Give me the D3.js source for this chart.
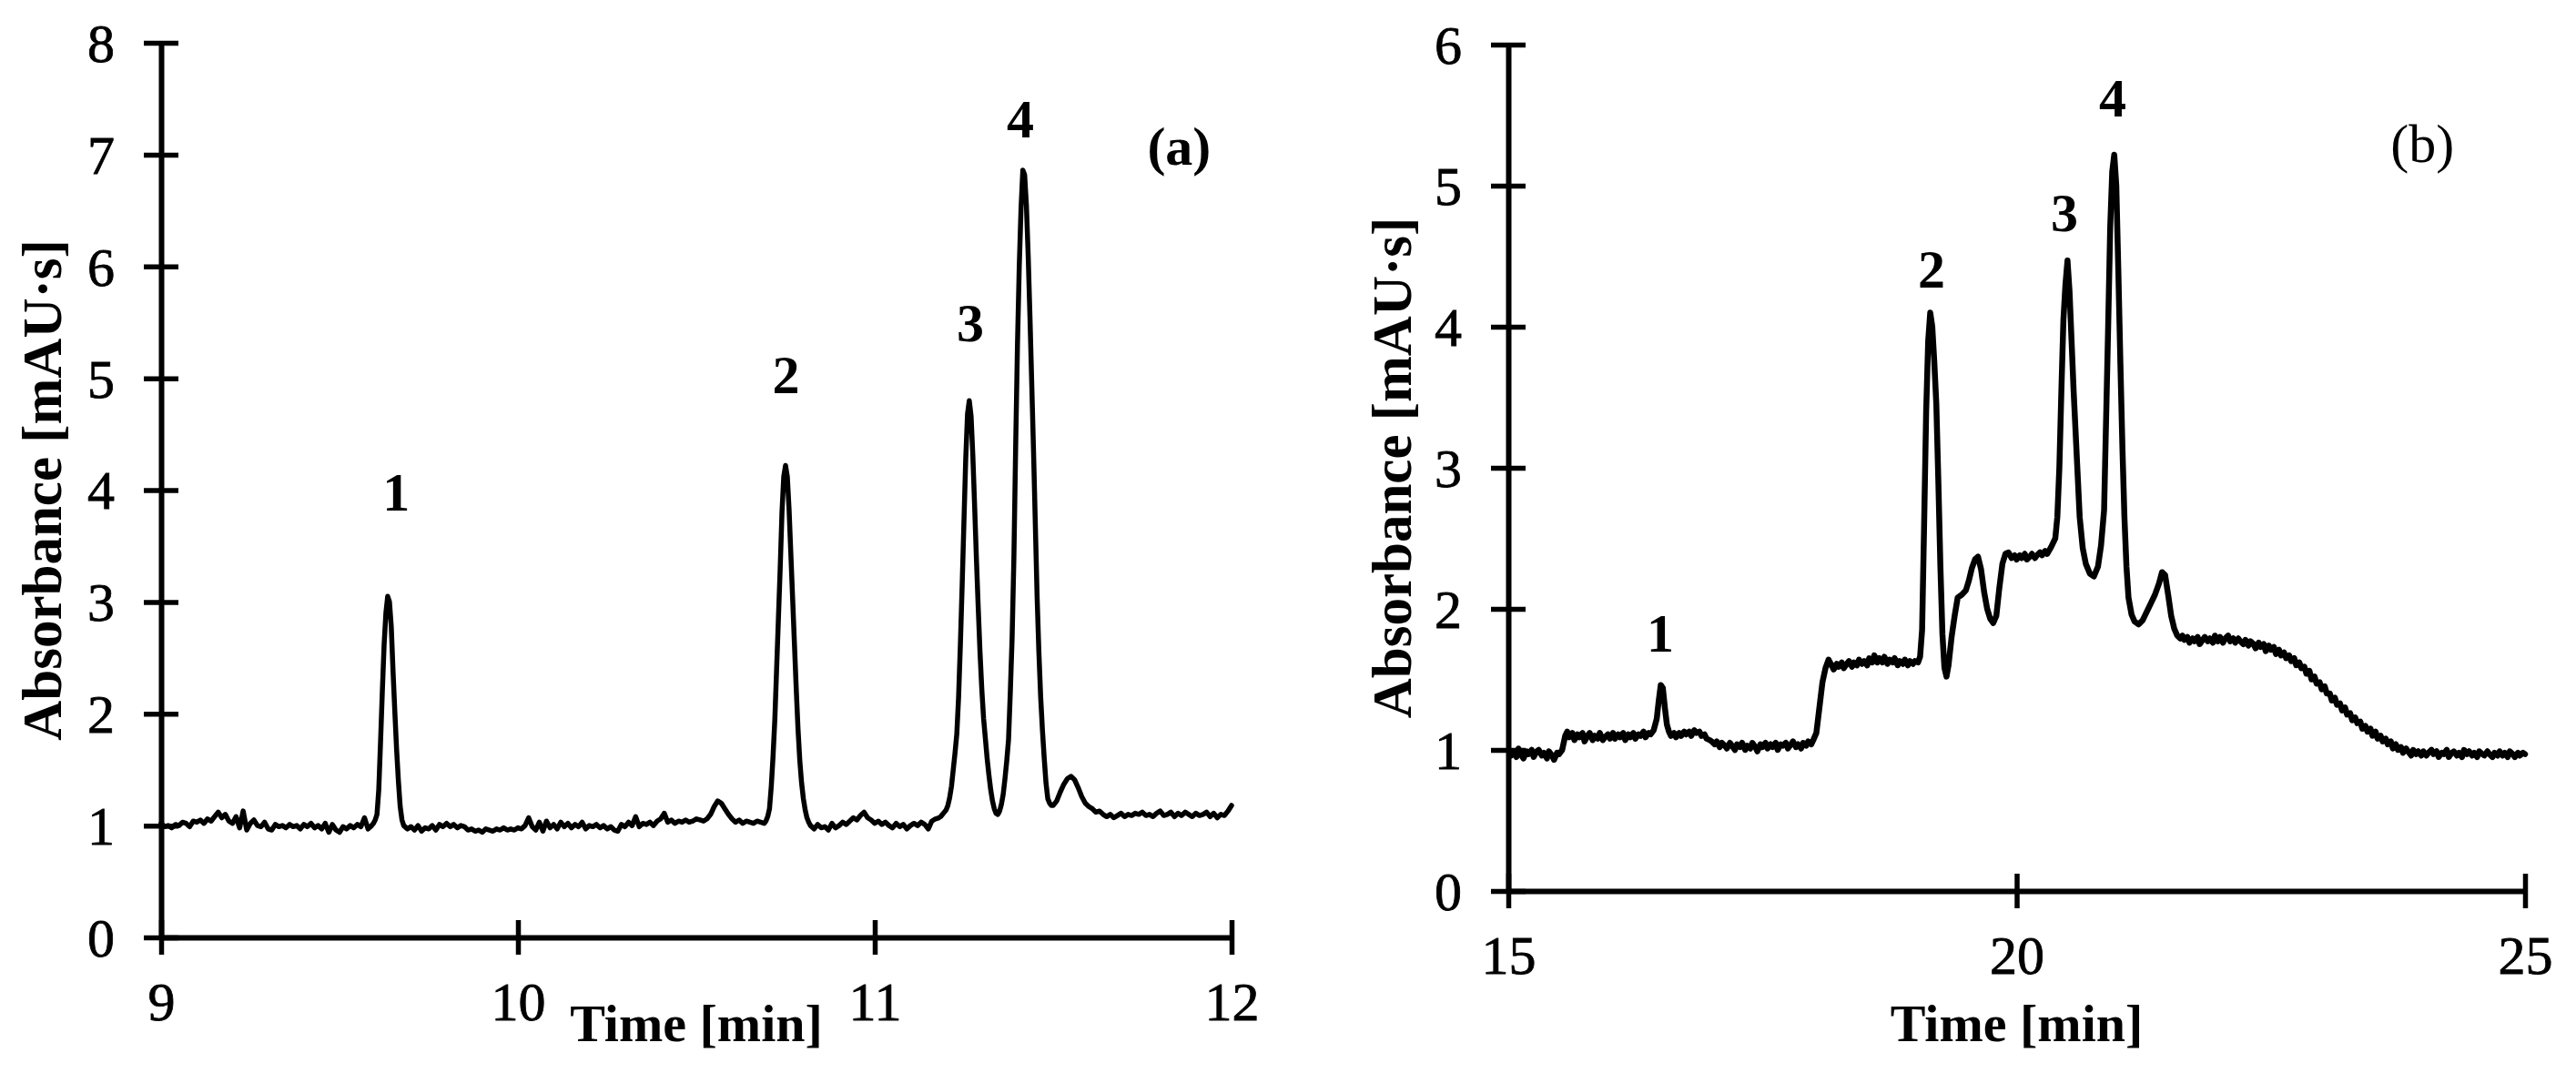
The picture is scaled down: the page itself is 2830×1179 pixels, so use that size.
<!DOCTYPE html>
<html><head><meta charset="utf-8">
<script src="https://cdn.jsdelivr.net/npm/d3@7"></script>
<style>body{margin:0;background:#fff}svg{display:block}</style>
</head><body>
<svg id="chart" width="2830" height="1179"></svg>
<script>
// ---------- DATA ----------
const traceA = [
[9.00,1.02],[9.01,0.99],[9.02,1.00],[9.03,0.98],[9.04,1.01],[9.05,1.00],[9.06,1.03],[9.07,1.02],[9.08,0.99],[9.09,1.04],
[9.10,1.03],[9.11,1.05],[9.12,1.02],[9.13,1.06],[9.14,1.04],[9.15,1.08],[9.16,1.12],[9.17,1.07],[9.18,1.10],[9.19,1.04],
[9.20,1.02],[9.21,1.08],[9.22,0.98],[9.23,1.13],[9.24,0.96],[9.25,1.02],[9.26,1.05],[9.27,1.00],[9.28,0.99],[9.29,1.03],
[9.30,0.97],[9.31,0.96],[9.32,1.01],[9.33,0.99],[9.34,1.00],[9.35,0.98],[9.36,1.01],[9.37,0.99],[9.38,1.00],[9.39,0.97],
[9.40,1.01],[9.41,0.99],[9.42,1.02],[9.43,0.98],[9.44,1.00],[9.45,0.97],[9.46,1.02],[9.47,0.94],[9.48,1.01],[9.49,0.96],
[9.50,0.94],[9.51,0.99],[9.52,0.97],[9.53,1.00],[9.54,0.98],[9.55,1.01],[9.56,0.99],[9.57,1.07],[9.58,0.97],[9.59,1.00],
[9.595,1.02],[9.600,1.05],[9.605,1.10],[9.610,1.32],[9.615,1.75],[9.620,2.20],[9.625,2.62],[9.630,2.90],[9.635,3.05],
[9.640,3.00],[9.645,2.78],[9.650,2.38],[9.655,2.02],[9.660,1.68],[9.665,1.40],[9.670,1.17],[9.675,1.05],
[9.68,1.00],[9.69,0.97],[9.70,0.99],[9.71,0.96],[9.72,1.00],[9.73,0.95],[9.74,0.98],[9.75,0.97],[9.76,1.00],[9.77,0.96],
[9.78,1.01],[9.79,0.99],[9.80,1.02],[9.81,0.99],[9.82,1.01],[9.83,0.98],[9.84,1.00],[9.85,0.99],[9.86,0.96],[9.87,0.97],
[9.88,0.95],[9.89,0.96],[9.90,0.94],[9.91,0.97],[9.92,0.96],[9.93,0.95],[9.94,0.97],[9.95,0.96],[9.96,0.98],[9.97,0.96],
[9.98,0.97],[9.99,0.96],[10.00,0.98],[10.01,0.97],[10.02,1.00],[10.03,1.07],[10.04,0.99],[10.05,0.96],[10.06,1.03],[10.07,0.95],
[10.08,1.04],[10.09,0.98],[10.10,1.01],[10.11,0.97],[10.12,1.03],[10.13,0.99],[10.14,1.02],[10.15,0.98],[10.16,1.01],[10.17,0.99],
[10.18,1.03],[10.19,0.97],[10.20,1.00],[10.21,0.99],[10.22,1.01],[10.23,0.98],[10.24,1.00],[10.25,0.97],[10.26,0.99],[10.27,0.96],
[10.28,0.95],[10.29,1.01],[10.30,0.99],[10.31,1.03],[10.32,1.00],[10.33,1.08],[10.34,0.99],[10.35,1.02],[10.36,1.01],[10.37,1.03],
[10.38,1.00],[10.39,1.04],[10.40,1.06],[10.41,1.11],[10.42,1.03],[10.43,1.05],[10.44,1.02],[10.45,1.04],[10.46,1.03],[10.47,1.05],
[10.48,1.03],[10.49,1.04],[10.50,1.06],[10.51,1.05],[10.52,1.04],[10.53,1.06],[10.54,1.10],[10.55,1.17],[10.56,1.22],[10.57,1.20],
[10.58,1.15],[10.59,1.10],[10.60,1.06],[10.61,1.03],[10.62,1.05],[10.63,1.02],[10.64,1.04],[10.65,1.03],[10.66,1.02],[10.67,1.04],
[10.68,1.03],[10.69,1.02],
[10.695,1.04],[10.700,1.08],[10.705,1.15],[10.710,1.35],[10.715,1.62],[10.720,1.95],[10.725,2.40],[10.730,2.85],[10.735,3.30],
[10.740,3.80],[10.745,4.12],[10.750,4.22],[10.755,4.12],[10.760,3.82],[10.765,3.42],[10.770,3.02],[10.775,2.62],[10.780,2.22],
[10.785,1.86],[10.790,1.58],[10.795,1.38],[10.800,1.24],[10.805,1.14],[10.810,1.07],[10.815,1.03],
[10.82,1.00],[10.83,0.97],[10.84,1.01],[10.85,0.98],[10.86,0.99],[10.87,0.96],[10.88,1.02],[10.89,0.98],[10.90,1.00],[10.91,1.03],
[10.92,1.01],[10.93,1.04],[10.94,1.07],[10.95,1.05],[10.96,1.09],[10.97,1.12],[10.98,1.07],[10.99,1.05],[11.00,1.02],[11.01,1.04],
[11.02,1.01],[11.03,1.03],[11.04,1.00],[11.05,0.98],[11.06,1.02],[11.07,0.99],[11.08,1.01],[11.09,0.97],[11.10,1.00],[11.11,1.02],
[11.12,1.00],[11.13,1.03],[11.14,1.01],[11.15,0.97],[11.16,1.04],[11.17,1.06],[11.18,1.07],
[11.185,1.08],[11.190,1.10],[11.195,1.12],[11.200,1.14],[11.205,1.18],[11.210,1.25],[11.215,1.35],[11.220,1.50],[11.225,1.65],
[11.230,1.82],[11.235,2.15],[11.240,2.62],[11.245,3.15],[11.250,3.72],[11.255,4.28],[11.260,4.68],[11.265,4.80],[11.270,4.66],
[11.275,4.30],[11.280,3.85],[11.285,3.38],[11.290,2.95],[11.295,2.55],[11.300,2.22],[11.305,1.96],[11.310,1.78],[11.315,1.60],
[11.320,1.45],[11.325,1.32],[11.330,1.22],[11.335,1.15],[11.340,1.11],[11.345,1.10],[11.350,1.13],[11.355,1.19],[11.360,1.28],
[11.365,1.42],[11.370,1.58],[11.375,1.77],[11.380,2.20],[11.385,2.68],[11.390,3.40],[11.395,4.40],[11.400,5.30],[11.405,6.00],
[11.410,6.52],[11.415,6.86],[11.420,6.82],[11.425,6.55],[11.430,6.10],[11.435,5.55],[11.440,4.95],[11.445,4.35],[11.450,3.70],
[11.455,3.05],[11.460,2.55],[11.465,2.15],[11.470,1.85],[11.475,1.60],[11.480,1.38],[11.485,1.24],[11.490,1.20],[11.495,1.18],
[11.500,1.18],[11.51,1.22],[11.52,1.30],[11.53,1.37],[11.54,1.42],[11.55,1.44],[11.56,1.41],[11.57,1.34],[11.58,1.26],[11.59,1.20],
[11.60,1.17],[11.61,1.15],[11.62,1.12],[11.63,1.13],[11.64,1.10],[11.65,1.08],[11.66,1.10],[11.67,1.07],[11.68,1.09],[11.69,1.11],
[11.70,1.08],[11.71,1.10],[11.72,1.09],[11.73,1.11],[11.74,1.10],[11.75,1.12],[11.76,1.09],[11.77,1.10],[11.78,1.08],[11.79,1.11],
[11.80,1.13],[11.81,1.09],[11.82,1.10],[11.83,1.12],[11.84,1.08],[11.85,1.11],[11.86,1.09],[11.87,1.12],[11.88,1.10],[11.89,1.08],
[11.90,1.11],[11.91,1.09],[11.92,1.10],[11.93,1.12],[11.94,1.08],[11.95,1.11],[11.96,1.07],[11.97,1.10],[11.98,1.09],[11.99,1.13],
[12.00,1.18]
];

const traceB = [
[15.00,1.00],[15.03,0.96],[15.05,0.99],[15.08,0.95],[15.10,1.01],[15.13,0.96],[15.15,0.94],[15.18,0.99],[15.20,0.97],[15.23,1.00],
[15.25,0.95],[15.28,0.99],[15.30,1.00],[15.33,0.96],[15.35,0.98],[15.38,0.94],[15.40,0.99],[15.43,0.96],[15.45,0.93],[15.48,0.98],
[15.50,0.97],[15.53,1.00],[15.56,1.10],[15.58,1.13],[15.60,1.09],[15.63,1.12],[15.65,1.07],[15.68,1.11],[15.70,1.09],[15.73,1.12],
[15.75,1.06],[15.78,1.10],[15.80,1.12],[15.83,1.07],[15.85,1.10],[15.88,1.08],[15.90,1.12],[15.93,1.07],[15.95,1.09],[15.98,1.11],
[16.00,1.08],[16.03,1.12],[16.05,1.08],[16.08,1.11],[16.10,1.09],[16.13,1.12],[16.15,1.07],[16.18,1.11],[16.20,1.09],[16.23,1.12],
[16.25,1.08],[16.28,1.11],[16.30,1.10],[16.33,1.13],[16.35,1.09],[16.38,1.12],[16.40,1.11],
[16.43,1.14],[16.46,1.22],[16.48,1.35],[16.50,1.46],[16.52,1.44],[16.54,1.30],[16.56,1.18],[16.58,1.13],[16.60,1.10],[16.63,1.12],
[16.65,1.09],[16.68,1.12],[16.70,1.10],[16.73,1.13],[16.75,1.11],[16.78,1.13],[16.80,1.10],[16.83,1.14],[16.85,1.12],[16.88,1.13],
[16.90,1.10],[16.93,1.11],[16.95,1.08],[16.98,1.07],[17.00,1.06],[17.03,1.04],[17.05,1.06],[17.08,1.02],[17.10,1.05],[17.13,1.03],
[17.15,1.01],[17.18,1.05],[17.20,1.03],[17.23,1.00],[17.25,1.04],[17.28,1.02],[17.30,1.05],[17.33,1.00],[17.35,1.03],[17.38,1.01],
[17.40,1.05],[17.43,1.02],[17.45,0.99],[17.48,1.04],[17.50,1.02],[17.53,1.05],[17.55,1.01],[17.58,1.04],[17.60,1.02],[17.63,1.05],
[17.65,1.00],[17.68,1.04],[17.70,1.03],[17.73,1.05],[17.75,1.01],[17.78,1.04],[17.80,1.06],[17.83,1.02],[17.85,1.04],[17.88,1.01],
[17.90,1.05],[17.93,1.03],[17.95,1.06],[17.98,1.04],[18.00,1.07],[18.03,1.12],[18.06,1.30],[18.09,1.48],
[18.12,1.58],[18.15,1.64],[18.18,1.60],[18.20,1.57],[18.23,1.61],[18.25,1.59],[18.28,1.62],[18.30,1.58],[18.33,1.61],[18.35,1.63],
[18.38,1.59],[18.40,1.62],[18.43,1.60],[18.45,1.64],[18.48,1.61],[18.50,1.63],[18.53,1.60],[18.55,1.65],[18.58,1.62],[18.60,1.67],
[18.63,1.62],[18.65,1.65],[18.68,1.62],[18.70,1.66],[18.73,1.61],[18.75,1.64],[18.78,1.62],[18.80,1.65],[18.83,1.60],[18.85,1.63],
[18.88,1.61],[18.90,1.64],[18.93,1.60],[18.95,1.63],[18.98,1.61],[19.00,1.63],
[19.03,1.62],[19.05,1.66],[19.07,1.85],[19.09,2.60],[19.11,3.40],[19.13,3.90],[19.15,4.10],[19.17,4.00],[19.19,3.75],[19.21,3.45],
[19.23,2.90],[19.25,2.30],[19.27,1.82],[19.29,1.58],[19.31,1.52],[19.33,1.60],[19.36,1.80],[19.39,1.95],[19.42,2.08],[19.46,2.10],
[19.50,2.13],[19.53,2.20],[19.56,2.29],[19.59,2.35],[19.62,2.37],[19.65,2.28],[19.68,2.12],[19.71,2.00],[19.74,1.93],[19.77,1.90],
[19.80,1.95],[19.83,2.15],[19.86,2.32],[19.89,2.39],[19.92,2.40],[19.95,2.36],[19.98,2.38],[20.00,2.35],[20.03,2.38],[20.05,2.36],
[20.08,2.39],[20.10,2.35],[20.13,2.37],[20.15,2.39],[20.18,2.36],[20.20,2.38],[20.23,2.40],[20.25,2.38],[20.28,2.41],[20.30,2.39],
[20.34,2.44],[20.38,2.50],[20.40,2.65],[20.42,3.00],[20.44,3.55],[20.46,4.05],
[20.48,4.30],[20.50,4.47],[20.52,4.25],[20.54,3.90],[20.56,3.55],[20.58,3.25],[20.60,2.95],[20.62,2.65],[20.65,2.43],[20.68,2.32],
[20.72,2.25],[20.76,2.23],[20.80,2.30],[20.83,2.45],[20.86,2.70],[20.88,3.35],[20.90,4.00],[20.92,4.70],[20.94,5.10],[20.96,5.22],
[20.98,5.00],[21.00,4.40],[21.02,3.75],[21.04,3.15],[21.06,2.65],[21.08,2.30],[21.10,2.08],[21.13,1.96],[21.16,1.91],[21.20,1.89],
[21.24,1.92],[21.28,1.98],[21.32,2.04],[21.36,2.10],[21.40,2.18],[21.43,2.26],[21.46,2.24],[21.49,2.10],[21.52,1.95],[21.55,1.86],
[21.58,1.81],[21.61,1.79],[21.63,1.81],[21.65,1.78],[21.68,1.80],[21.70,1.76],[21.73,1.79],[21.75,1.77],[21.78,1.80],[21.80,1.75],
[21.83,1.78],[21.85,1.80],[21.88,1.77],[21.90,1.79],[21.93,1.76],[21.95,1.81],[21.98,1.77],[22.00,1.80],[22.03,1.76],[22.05,1.79],
[22.08,1.81],[22.10,1.77],[22.13,1.79],[22.15,1.76],[22.18,1.79],[22.20,1.77],[22.23,1.75],[22.25,1.78],[22.28,1.74],[22.30,1.77],
[22.33,1.75],[22.35,1.72],[22.38,1.76],[22.40,1.73],[22.43,1.75],[22.45,1.70],[22.48,1.74],[22.50,1.71],[22.53,1.73],[22.55,1.68],
[22.58,1.71],[22.60,1.67],[22.63,1.69],[22.65,1.65],[22.68,1.67],[22.70,1.63],[22.73,1.65],[22.75,1.60],[22.78,1.62],[22.80,1.58],
[22.83,1.59],[22.85,1.54],[22.88,1.56],[22.90,1.50],[22.93,1.52],[22.95,1.47],[22.98,1.48],[23.00,1.43],[23.03,1.45],[23.05,1.40],
[23.08,1.40],[23.10,1.35],[23.13,1.37],[23.15,1.32],[23.18,1.33],[23.20,1.28],[23.23,1.30],[23.25,1.25],[23.28,1.26],[23.30,1.21],
[23.33,1.23],[23.35,1.19],[23.38,1.20],[23.40,1.15],[23.43,1.17],[23.45,1.13],[23.48,1.15],[23.50,1.10],[23.53,1.13],[23.55,1.08],
[23.58,1.10],[23.60,1.06],[23.63,1.08],[23.65,1.04],[23.68,1.06],[23.70,1.01],[23.73,1.04],[23.75,1.00],[23.78,1.02],[23.80,0.98],
[23.83,1.01],[23.85,0.99],[23.88,0.96],[23.90,1.00],[23.93,0.97],[23.95,0.99],[23.98,0.96],[24.00,0.99],[24.03,0.96],[24.05,0.98],
[24.08,1.00],[24.10,0.97],[24.13,0.99],[24.15,0.95],[24.18,0.98],[24.20,0.97],[24.23,1.00],[24.25,0.95],[24.28,0.98],[24.30,0.99],
[24.33,0.96],[24.35,0.98],[24.38,0.95],[24.40,1.00],[24.43,0.97],[24.45,0.99],[24.48,0.96],[24.50,0.98],[24.53,0.95],[24.55,0.99],
[24.58,0.97],[24.60,0.96],[24.63,0.99],[24.65,0.97],[24.68,0.95],[24.70,0.98],[24.73,0.96],[24.75,0.99],[24.78,0.96],[24.80,0.98],
[24.83,0.95],[24.85,0.99],[24.88,0.97],[24.90,0.95],[24.93,0.98],[24.95,0.96],[24.98,0.98],[25.00,0.97]
];

const xTicksA = [9, 10, 11, 12];
const yTicksA = [0, 1, 2, 3, 4, 5, 6, 7, 8];
const xTicksB = [15, 20, 25];
const yTicksB = [0, 1, 2, 3, 4, 5, 6];

// peak labels: [text, time, absorbance level of label baseline]
const peaksA = [["1", 9.659, 3.82], ["2", 10.751, 4.87], ["3", 11.268, 5.33], ["4", 11.408, 7.15]];
const peaksB = [["1", 16.495, 1.70], ["2", 19.163, 4.28], ["3", 20.47, 4.68], ["4", 20.945, 5.49]];

const xTitle = "Time [min]";
const yTitle = "Absorbance [mAU\u00B7s]";

// ---------- DRAW ----------
const svg = d3.select("#chart");
const FONT = "'Liberation Serif','Times New Roman',serif";

function panel(cfg) {
  const x = d3.scaleLinear().domain(cfg.xDomain).range(cfg.xRange);
  const y = d3.scaleLinear().domain(cfg.yDomain).range(cfg.yRange);
  const g = svg.append("g");

  // line
  g.append("path").datum(cfg.trace)
    .attr("fill", "none").attr("stroke", "#000")
    .attr("stroke-width", cfg.lw).attr("stroke-linejoin", "round").attr("stroke-linecap", "round")
    .attr("d", d3.line().x(d => x(d[0])).y(d => y(d[1])));

  // x axis
  const gx = g.append("g").attr("transform", `translate(0,${cfg.yRange[0]})`)
    .call(d3.axisBottom(x).tickValues(cfg.xTicks).tickSize(18).tickSizeOuter(0).tickFormat(d3.format("d")));
  gx.select(".domain").attr("stroke", "#000").attr("stroke-width", 6);
  gx.selectAll(".tick line").attr("y1", -19).attr("y2", 19).attr("stroke", "#000").attr("stroke-width", 5.5);
  gx.selectAll(".tick text").attr("y", 91).attr("dy", null)
    .attr("font-family", FONT).attr("font-size", 60).attr("fill", "#000")
    .attr("stroke", "#000").attr("stroke-width", 0.8);

  // y axis
  const gy = g.append("g").attr("transform", `translate(${cfg.xRange[0]},0)`)
    .call(d3.axisLeft(y).tickValues(cfg.yTicks).tickSize(18).tickSizeOuter(0).tickFormat(d3.format("d")));
  gy.select(".domain").attr("stroke", "#000").attr("stroke-width", 6);
  gy.selectAll(".tick line").attr("x1", -19).attr("x2", 19).attr("stroke", "#000").attr("stroke-width", 5.5);
  gy.selectAll(".tick text").attr("x", -51).attr("dy", "0.34em")
    .attr("font-family", FONT).attr("font-size", 60).attr("fill", "#000")
    .attr("stroke", "#000").attr("stroke-width", 0.8);

  // axis titles
  g.append("text").text(xTitle)
    .attr("x", (cfg.xRange[0] + cfg.xRange[1]) / 2).attr("y", 1144)
    .attr("text-anchor", "middle").attr("font-family", FONT).attr("font-weight", "bold").attr("font-size", 58);
  g.append("text").text(yTitle)
    .attr("transform", `translate(${cfg.yTitleX},${(cfg.yRange[0] + cfg.yRange[1]) / 2}) rotate(-90)`)
    .attr("text-anchor", "middle").attr("font-family", FONT).attr("font-weight", "bold").attr("font-size", 61);

  // peak labels
  g.selectAll(".peak").data(cfg.peaks).enter().append("text")
    .attr("x", d => x(d[1])).attr("y", d => y(d[2]))
    .attr("text-anchor", "middle").attr("font-family", FONT).attr("font-weight", "bold").attr("font-size", 60)
    .text(d => d[0]);

  // panel tag
  g.append("text").text(cfg.tag[0])
    .attr("x", x(cfg.tag[1])).attr("y", y(cfg.tag[2]))
    .attr("text-anchor", "middle").attr("font-family", FONT)
    .attr("font-weight", cfg.tagWeight).attr("font-size", 60);
}

panel({
  trace: traceA, xDomain: [9, 12], yDomain: [0, 8],
  xRange: [177, 1353], yRange: [1030, 47],
  xTicks: xTicksA, yTicks: yTicksA, lw: 5.5, yTitleX: 67,
  peaks: peaksA, tag: ["(a)", 11.853, 6.91], tagWeight: "bold"
});
panel({
  trace: traceB, xDomain: [15, 25], yDomain: [0, 6],
  xRange: [1657, 2774], yRange: [979, 49],
  xTicks: xTicksB, yTicks: yTicksB, lw: 6.5, yTitleX: 1550,
  peaks: peaksB, tag: ["(b)", 23.99, 5.17], tagWeight: "normal"
});
</script>
</body></html>
